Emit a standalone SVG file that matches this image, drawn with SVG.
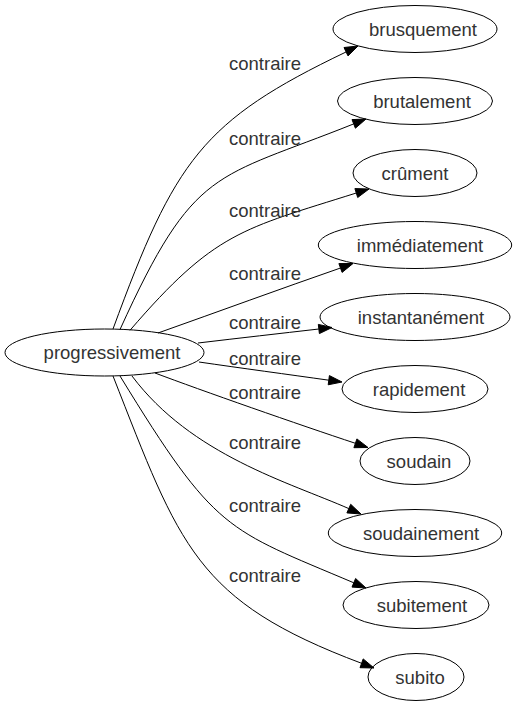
<svg xmlns="http://www.w3.org/2000/svg" width="516" height="707" viewBox="0 0 516 707">
<style>
.n ellipse{fill:none;stroke:#000;stroke-width:1}
text{font-family:"Liberation Sans",Arial,sans-serif;font-size:18.5px;fill:#333;text-anchor:middle}
.e path{fill:none;stroke:#000;stroke-width:1}
.e polygon{fill:#000;stroke:#000;stroke-width:1}
</style>
<rect width="516" height="707" fill="#fff"/>
<g id="edges" class="e">
<path d="M113,329 C175,160 202,121 346,52"/><polygon points="358,46 348,55.9 344,47.5"/>
<path d="M120,329.5 C194.5,165.7 214.5,179.6 353.7,123.9"/><polygon points="366,119 355.4,128.2 352,119.6"/>
<path d="M130,330.3 C214.8,231.8 241.9,229.1 356.3,193"/><polygon points="369,189 357.7,197.5 354.9,188.6"/>
<path d="M158,333 C220,311 280,289 340.5,268"/><polygon points="353,263.5 342.1,272.4 338.9,263.6"/>
<path d="M198,343 C240,338 280,333.5 318.8,329"/><polygon points="332,327.5 319.4,333.6 318.3,324.4"/>
<path d="M199,362 C240,368 290,374.7 328.8,380.2"/><polygon points="342,382 328.2,384.8 329.4,375.6"/>
<path d="M155,373 C200,390 300,425 355.4,443.3"/><polygon points="368,447.5 353.9,447.7 356.9,438.9"/>
<path d="M132,376 C191.4,455.2 289.3,482.4 348.8,508.6"/><polygon points="361,514 346.9,512.9 350.7,504.3"/>
<path d="M120,376 C215.9,532.7 225.9,528.6 353.8,582.8"/><polygon points="366,588 352,587.1 355.6,578.5"/>
<path d="M113,376 C180,546.4 195.3,600.9 361.6,663.3"/><polygon points="374,668 360,667.7 363.2,658.9"/>
<text x="265" y="69.5">contraire</text>
<text x="265" y="144.5">contraire</text>
<text x="265" y="216.5">contraire</text>
<text x="265" y="279.5">contraire</text>
<text x="265" y="328.5">contraire</text>
<text x="265" y="364.5">contraire</text>
<text x="265" y="398.5">contraire</text>
<text x="265" y="448.5">contraire</text>
<text x="265" y="511.5">contraire</text>
<text x="265" y="581.5">contraire</text>
</g>
<g id="progressivement" class="n"><ellipse cx="104.5" cy="352.5" rx="99.5" ry="23.5"/><text x="112" y="359">progressivement</text></g>
<g id="brusquement" class="n"><ellipse cx="415" cy="29" rx="82" ry="23.5"/><text x="423" y="35.5">brusquement</text></g>
<g id="brutalement" class="n"><ellipse cx="415" cy="101" rx="77.5" ry="23.5"/><text x="422" y="107.5">brutalement</text></g>
<g id="crument" class="n"><ellipse cx="415" cy="173" rx="62" ry="23.5"/><text x="415" y="179.5">crûment</text></g>
<g id="immediatement" class="n"><ellipse cx="415" cy="245" rx="96.7" ry="23.5"/><text x="420" y="251.5">immédiatement</text></g>
<g id="instantanement" class="n"><ellipse cx="415" cy="317" rx="95" ry="23.5"/><text x="421" y="323.5">instantanément</text></g>
<g id="rapidement" class="n"><ellipse cx="415" cy="389" rx="73" ry="23.5"/><text x="419" y="395.5">rapidement</text></g>
<g id="soudain" class="n"><ellipse cx="415" cy="461" rx="55" ry="23.5"/><text x="419" y="467.5">soudain</text></g>
<g id="soudainement" class="n"><ellipse cx="415" cy="533" rx="86.7" ry="23.5"/><text x="421" y="539.5">soudainement</text></g>
<g id="subitement" class="n"><ellipse cx="416" cy="605" rx="73" ry="23.5"/><text x="422" y="611.5">subitement</text></g>
<g id="subito" class="n"><ellipse cx="416" cy="677" rx="48" ry="23.5"/><text x="420" y="683.5">subito</text></g>
</svg>
